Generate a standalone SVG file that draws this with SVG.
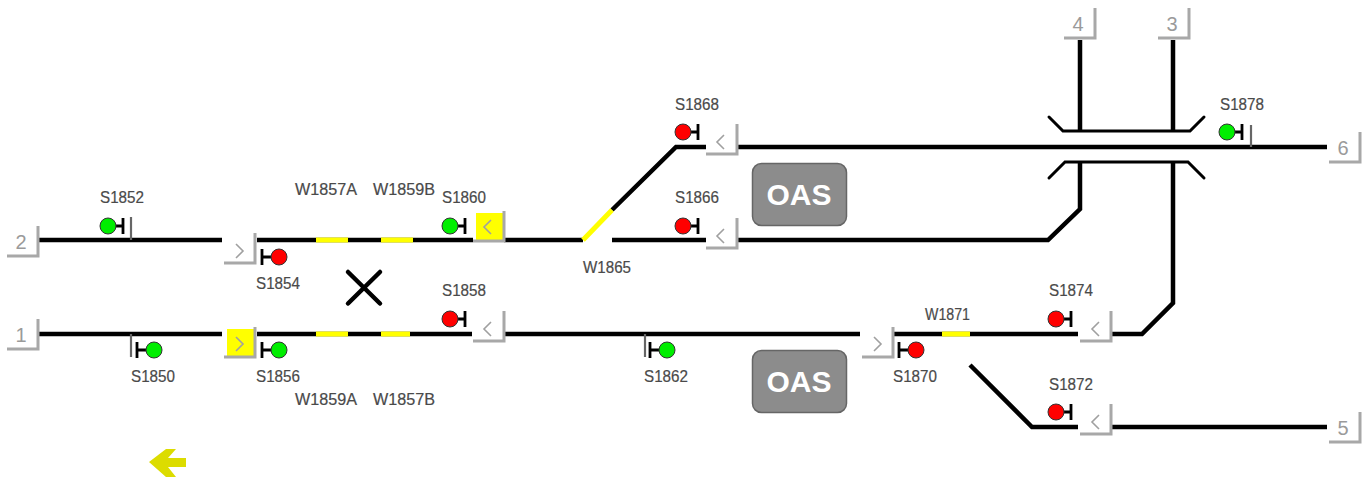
<svg xmlns="http://www.w3.org/2000/svg" width="1370" height="483" viewBox="0 0 1370 483">
<style>
text{font-family:"Liberation Sans",Arial,sans-serif}
.lbl{font-size:17px;fill:#4a4a4a;stroke:#4a4a4a;stroke-width:.2}
.num{font-size:20px;fill:#9a9a9a;text-anchor:middle}
.oas{font-size:30px;font-weight:bold;fill:#fff;text-anchor:middle}
.t{fill:none;stroke:#000;stroke-width:4.500;stroke-linejoin:miter}
.y{fill:none;stroke:#ffff00;stroke-width:5}
.thin{fill:none;stroke:#000;stroke-width:3;stroke-linecap:round}
.g{fill:#00ee00}.r{fill:#ff0000}
.ybg{fill:#ffff00}
.post{stroke:#666;stroke-width:2.200;fill:none}
.box{fill:#8c8c8c;stroke:#666;stroke-width:1.500}
</style>
<defs>
<path id="bevel" d="M0 30H31V0" fill="none" stroke="#a8a8a8" stroke-width="3"/>
<path id="cl" d="M9 -7L2 0L9 7" fill="none" stroke="#a0a0a0" stroke-width="1.600"/>
<path id="cr" d="M2 -7L9 0L2 7" fill="none" stroke="#a0a0a0" stroke-width="1.600"/>
<g id="sigL"><path d="M0 0H14M15 -8V8" stroke="#000" stroke-width="2.800" fill="none"/><circle r="8" stroke="#333" stroke-width="1"/></g>
<g id="sigR"><path d="M0 0H-16M-17 -8V8" stroke="#000" stroke-width="2.800" fill="none"/><circle r="8" stroke="#333" stroke-width="1"/></g>
</defs>
<rect width="1370" height="483" fill="#fff"/>
<g id="connectors">
<path class="t" d="M38 240H222M257 240H473M504 240H583M612 240H706M738 240H1048L1080 209V163"/>
<path class="t" d="M612 210L676 147H706M738 147H1327"/>
<path class="t" d="M38 334H222M257 334H472M505 334H860M894 334H1078M1112 334H1142L1173 303V163"/>
<path class="t" d="M970 365L1032 427H1078M1112 427H1327"/>
<path class="t" d="M1080 40V132M1173 40V132"/>
<path class="thin" d="M1049 117L1063 131H1190L1204 117"/>
<path class="thin" d="M1049 178L1065 162H1188L1204 178"/>
<path class="y" d="M316 240H348M381 240H413M316 334H348M381 334H410M942 334H970M583 240L612 210"/>
</g>
<g id="S1852"><path class="post" d="M131 217V240"/><use href="#sigL" class="g" x="108" y="226"/><text class="lbl" x="100" y="203" textLength="44" lengthAdjust="spacingAndGlyphs">S1852</text></g>
<g id="S1854"><use href="#sigR" class="r" x="279" y="257"/><text class="lbl" x="256" y="289" textLength="44" lengthAdjust="spacingAndGlyphs">S1854</text></g>
<g id="S1850"><path class="post" d="M131 334V357"/><use href="#sigR" class="g" x="154" y="350"/><text class="lbl" x="131" y="382" textLength="44" lengthAdjust="spacingAndGlyphs">S1850</text></g>
<g id="S1856"><use href="#sigR" class="g" x="279" y="350"/><text class="lbl" x="256" y="382" textLength="44" lengthAdjust="spacingAndGlyphs">S1856</text></g>
<g id="S1860"><use href="#sigL" class="g" x="450" y="226"/><text class="lbl" x="442" y="203" textLength="44" lengthAdjust="spacingAndGlyphs">S1860</text></g>
<g id="S1858"><use href="#sigL" class="r" x="450" y="319"/><text class="lbl" x="442" y="296" textLength="44" lengthAdjust="spacingAndGlyphs">S1858</text></g>
<g id="S1868"><use href="#sigL" class="r" x="683" y="132"/><text class="lbl" x="675" y="110" textLength="44" lengthAdjust="spacingAndGlyphs">S1868</text></g>
<g id="S1866"><use href="#sigL" class="r" x="683" y="226"/><text class="lbl" x="675" y="203" textLength="44" lengthAdjust="spacingAndGlyphs">S1866</text></g>
<g id="S1862"><path class="post" d="M645 334V357"/><use href="#sigR" class="g" x="667" y="350"/><text class="lbl" x="644" y="382" textLength="44" lengthAdjust="spacingAndGlyphs">S1862</text></g>
<g id="S1870"><use href="#sigR" class="r" x="916" y="350"/><text class="lbl" x="893" y="382" textLength="44" lengthAdjust="spacingAndGlyphs">S1870</text></g>
<g id="S1874"><use href="#sigL" class="r" x="1056" y="319"/><text class="lbl" x="1049" y="296" textLength="44" lengthAdjust="spacingAndGlyphs">S1874</text></g>
<g id="S1872"><use href="#sigL" class="r" x="1056" y="412"/><text class="lbl" x="1049" y="390" textLength="44" lengthAdjust="spacingAndGlyphs">S1872</text></g>
<g id="S1878"><path class="post" d="M1251 125V147"/><use href="#sigL" class="g" x="1227" y="132"/><text class="lbl" x="1220" y="110" textLength="44" lengthAdjust="spacingAndGlyphs">S1878</text></g>
<g id="W1857A"><text class="lbl" x="295" y="195" textLength="62" lengthAdjust="spacingAndGlyphs">W1857A</text></g>
<g id="W1859B"><text class="lbl" x="373" y="195" textLength="62" lengthAdjust="spacingAndGlyphs">W1859B</text></g>
<g id="W1859A"><text class="lbl" x="295" y="405" textLength="62" lengthAdjust="spacingAndGlyphs">W1859A</text></g>
<g id="W1857B"><text class="lbl" x="373" y="405" textLength="62" lengthAdjust="spacingAndGlyphs">W1857B</text></g>
<g id="W1865"><text class="lbl" x="583" y="273" textLength="48" lengthAdjust="spacingAndGlyphs">W1865</text></g>
<g id="W1871"><text class="lbl" x="925" y="320" textLength="45" lengthAdjust="spacingAndGlyphs">W1871</text></g>
<g id="btn2"><use href="#bevel" x="7" y="226"/><text class="num" x="21" y="249">2</text></g>
<g id="btn1"><use href="#bevel" x="7" y="319"/><text class="num" x="21" y="342">1</text></g>
<g id="btn4"><use href="#bevel" x="1064" y="8"/><text class="num" x="1078" y="31">4</text></g>
<g id="btn3"><use href="#bevel" x="1158" y="8"/><text class="num" x="1172" y="31">3</text></g>
<g id="btn6"><use href="#bevel" x="1329" y="132"/><text class="num" x="1343" y="155">6</text></g>
<g id="btn5"><use href="#bevel" x="1329" y="412"/><text class="num" x="1343" y="435">5</text></g>
<g id="btnE2"><use href="#bevel" x="224" y="233"/><use href="#cr" x="234" y="251"/></g>
<g id="btnE1"><rect class="ybg" x="227" y="329" width="27" height="27"/><use href="#bevel" x="224" y="327"/><use href="#cr" x="234" y="344"/></g>
<g id="btnW1860"><rect class="ybg" x="476" y="213" width="27" height="27"/><use href="#bevel" x="473" y="211"/><use href="#cl" x="482" y="227"/></g>
<g id="btnW1858"><use href="#bevel" x="473" y="311"/><use href="#cl" x="482" y="329"/></g>
<g id="btnW1868"><use href="#bevel" x="706" y="124"/><use href="#cl" x="715" y="142"/></g>
<g id="btnW1866"><use href="#bevel" x="706" y="218"/><use href="#cl" x="715" y="236"/></g>
<g id="btnE1870"><use href="#bevel" x="862" y="327"/><use href="#cr" x="872" y="344"/></g>
<g id="btnW1874"><use href="#bevel" x="1080" y="311"/><use href="#cl" x="1090" y="329"/></g>
<g id="btnW1872"><use href="#bevel" x="1080" y="404"/><use href="#cl" x="1090" y="422"/></g>
<g id="oas1"><rect class="box" x="752.500" y="163.500" width="94" height="62" rx="9"/><text class="oas" x="799" y="205">OAS</text></g>
<g id="oas2"><rect class="box" x="752.500" y="350.500" width="94" height="62" rx="9"/><text class="oas" x="799" y="392">OAS</text></g>
<g id="cross"><path d="M348 303.500L380 272M348 272L380 303.500" stroke="#000" stroke-width="4.500" stroke-linecap="round" fill="none"/></g>
<g id="arrow"><polygon points="149,462 166,449 176,449 168,458 186,458 186,467 168,467 176,477 166,477" fill="#dcdc00"/></g>
</svg>
